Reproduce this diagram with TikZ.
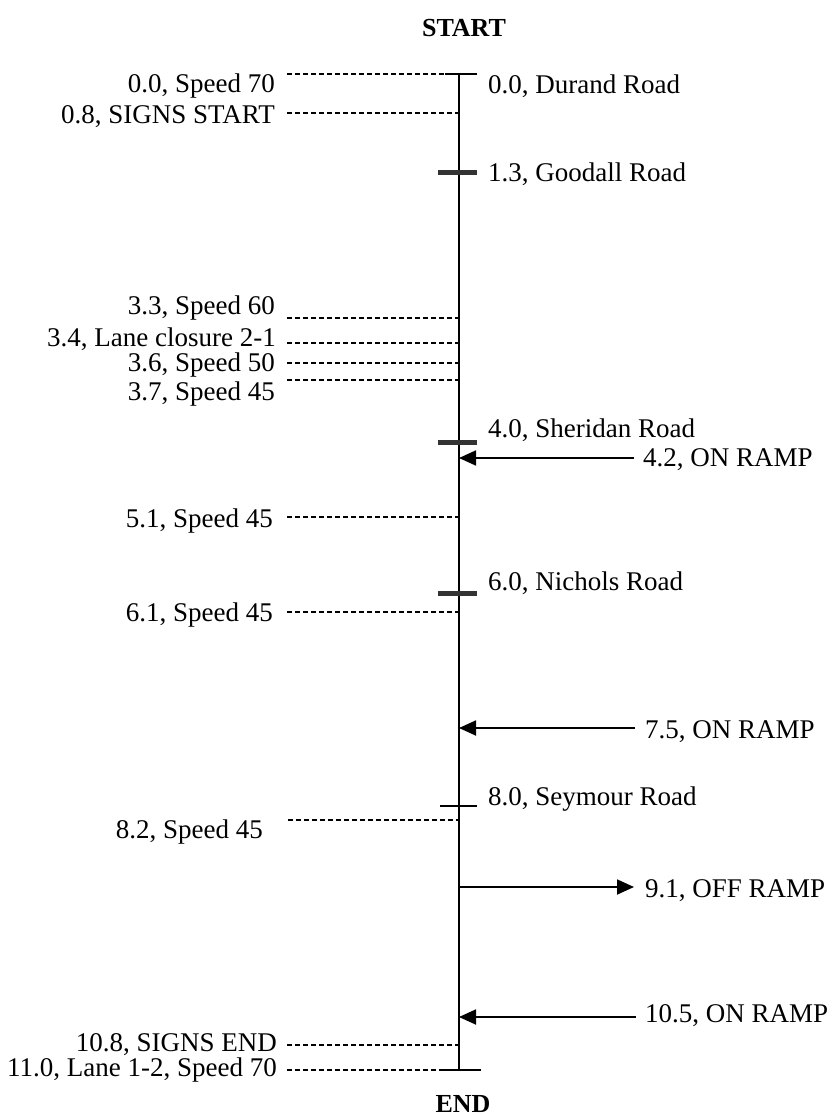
\documentclass[tikz,border=0pt]{standalone}
\usepackage{fontspec}
\setmainfont{Liberation Serif}
\usetikzlibrary{arrows.meta}
\begin{document}
\begin{tikzpicture}[x=1pt,y=-1pt,
  lbl/.style={font=\fontsize{27}{31}\selectfont, inner sep=0pt},
  ttl/.style={font=\fontsize{26}{30}\selectfont\bfseries, inner sep=0pt},
  sig/.style={dash pattern=on 5pt off 3pt, line width=1.5pt},
  road/.style={line width=5pt, black!80},
  thin/.style={line width=1.3pt},
  ramp/.style={line width=1.8pt, -{Triangle[length=17pt,width=15pt]}},
  hw/.style={line width=1.3pt}]
\useasboundingbox (0,0) rectangle (833,1116);

\node[ttl] (start) at (464,28) {START};
\node[ttl] (end) at (463,1104) {END};

% main highway
\coordinate (top) at (459,74);
\coordinate (bot) at (459,1070);
\draw[hw] (top) -- (bot);

% left sign labels
\node[lbl,anchor=east] (l00) at (275,86) {0.0, Speed 70};
\node[lbl,anchor=east] (l08) at (275,117) {0.8, SIGNS START};
\node[lbl,anchor=east] (l33) at (275,308) {3.3, Speed 60};
\node[lbl,anchor=east] (l34) at (276,339) {3.4, Lane closure 2-1};
\node[lbl,anchor=east] (l36) at (275,365) {3.6, Speed 50};
\node[lbl,anchor=east] (l37) at (275,394) {3.7, Speed 45};
\node[lbl,anchor=east] (l51) at (273,521) {5.1, Speed 45};
\node[lbl,anchor=east] (l61) at (273,615) {6.1, Speed 45};
\node[lbl,anchor=east] (l82) at (263,832) {8.2, Speed 45};
\node[lbl,anchor=east] (l108) at (277,1045) {10.8, SIGNS END};
\node[lbl,anchor=east] (l110) at (277,1070) {11.0, Lane 1-2, Speed 70};

% dashed sign connectors
\coordinate (d00) at (287,74);   \coordinate (h00) at (445,74);
\coordinate (d08) at (287,113);  \coordinate (h08) at (459,113);
\coordinate (d33) at (287,318);  \coordinate (h33) at (459,318);
\coordinate (d34) at (287,343);  \coordinate (h34) at (459,343);
\coordinate (d36) at (287,363);  \coordinate (h36) at (459,363);
\coordinate (d37) at (287,380);  \coordinate (h37) at (459,380);
\coordinate (d51) at (287,517);  \coordinate (h51) at (459,517);
\coordinate (d61) at (287,612);  \coordinate (h61) at (459,612);
\coordinate (d82) at (288,820);  \coordinate (h82) at (459,820);
\coordinate (d108) at (287,1045); \coordinate (h108) at (459,1045);
\coordinate (d110) at (287,1070); \coordinate (h110) at (443,1070);
\foreach \k in {00,08,33,34,36,37,51,61,82,108,110} {
  \draw[sig] (d\k) -- (h\k);
}

% solid ends at start and end
\coordinate (t00) at (477,74);
\draw[thin] (h00) -- (t00);
\coordinate (t110) at (481,1070);
\draw[line width=2.2pt] (h110) -- (t110);

% cross roads
\node[lbl,anchor=west] (r00) at (488,86) {0.0, Durand Road};
\coordinate (g1) at (438,172); \coordinate (g2) at (477,172);
\draw[road] (g1) -- (g2);
\node[lbl,anchor=west] (r13) at (488,174) {1.3, Goodall Road};
\coordinate (s1) at (438,442); \coordinate (s2) at (477,442);
\draw[road] (s1) -- (s2);
\node[lbl,anchor=west] (r40) at (488,430) {4.0, Sheridan Road};
\coordinate (n1) at (438,593); \coordinate (n2) at (477,593);
\draw[road] (n1) -- (n2);
\node[lbl,anchor=west] (r60) at (488,583) {6.0, Nichols Road};
\coordinate (y1) at (440,806); \coordinate (y2) at (477,806);
\draw[thin] (y1) -- (y2);
\node[lbl,anchor=west] (r80) at (488,799) {8.0, Seymour Road};

% ramps
\node[lbl,anchor=west] (a42) at (643,460) {4.2, ON RAMP};
\coordinate (a42s) at (634,458); \coordinate (a42e) at (459,458);
\draw[ramp] (a42s) -- (a42e);
\node[lbl,anchor=west] (a75) at (645,732) {7.5, ON RAMP};
\coordinate (a75s) at (635,728); \coordinate (a75e) at (459,728);
\draw[ramp] (a75s) -- (a75e);
\node[lbl,anchor=west] (a91) at (645,891) {9.1, OFF RAMP};
\coordinate (a91s) at (459,887); \coordinate (a91e) at (634,887);
\draw[ramp] (a91s) -- (a91e);
\node[lbl,anchor=west] (a105) at (645,1016) {10.5, ON RAMP};
\coordinate (a105s) at (636,1017); \coordinate (a105e) at (459,1017);
\draw[ramp] (a105s) -- (a105e);
\end{tikzpicture}
\end{document}
